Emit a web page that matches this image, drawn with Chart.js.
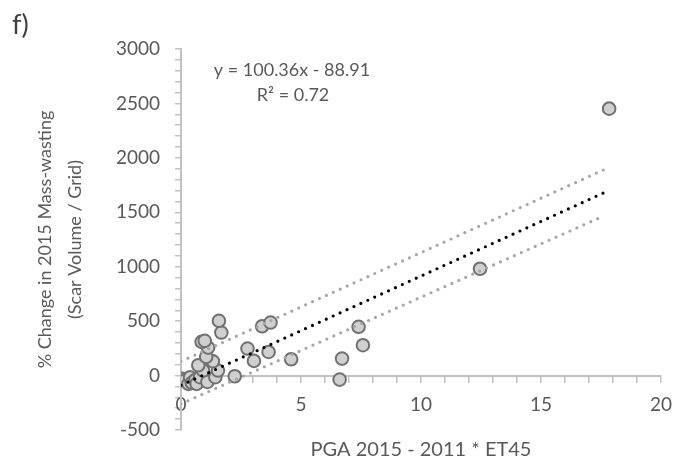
<!DOCTYPE html>
<html>
<head>
<meta charset="utf-8">
<script src="https://cdn.jsdelivr.net/npm/chart.js@4.4.1/dist/chart.umd.min.js"></script>
<style>
  html, body { margin: 0; padding: 0; background: #fff; }
  #wrap { width: 684px; height: 462px; }
</style>
</head>
<body>
<div id="wrap"><canvas id="chart" width="684" height="462"></canvas></div>
<script>
// scatter points
const pgaX = [0.04, 0.18, 0.31, 0.38, 0.45, 0.60, 0.65, 0.79, 1.10, 1.43, 1.54, 0.92, 0.72, 1.33, 1.05, 1.13, 0.86, 0.99, 1.68, 1.58, 2.24, 2.77, 3.04, 3.38, 3.73, 3.65, 4.59, 6.61, 6.71, 7.40, 7.58, 12.46, 17.84];
const changeY = [-30, -43, -76, -15, -67, -40, -76, -15, -58, -15, 46, 46, 95, 131, 172, 257, 310, 319, 395, 503, -6, 248, 135, 453, 487, 217, 150, -37, 156, 448, 279, 981, 2452];

// trend line and its band (end points as drawn)
const lineX = [0, 17.6];
const trendY = [-89, 1677];
const upperY = [131, 1889];
const lowerY = [-260, 1465];

// axis ticks
const xMajor = [0, 5, 10, 15, 20];
const yMajor = [-500, 0, 500, 1000, 1500, 2000, 2500, 3000];

const FONT = "Lato, 'Open Sans', sans-serif";
const GREY = "#595959";
const AXIS = "#c2c2c2";

const pts = (xs, ys) => xs.map((x, i) => ({ x: x, y: ys[i] }));

const dotted = (ys, color) => ({
    type: "line",
    data: pts(lineX, ys),
    borderColor: color,
    borderWidth: 3.2,
    borderDash: [0, 7.6],
    borderCapStyle: "round",
    pointRadius: 0,
    fill: false,
    order: 1,
});

// free text: panel letter + equation
const textPlugin = {
    id: "labels",
    afterDraw(chart) {
        const ctx = chart.ctx;
        ctx.save();
        ctx.fillStyle = "#404040";
        ctx.textBaseline = "middle";
        ctx.textAlign = "left";
        ctx.font = "27px " + FONT;
        ctx.fillText("f)", 12, 25);
        ctx.fillStyle = GREY;
        ctx.textAlign = "center";
        ctx.font = "18px " + FONT;
        ctx.fillText("y = 100.36x - 88.91", 292, 70);
        ctx.fillText("R² = 0.72", 293, 95);
        ctx.restore();
    },
};

// axis line with small ticks only, no gridlines
const gridOpts = {
    display: true,
    drawOnChartArea: false,
    drawTicks: true,
    tickLength: 6,
    color: AXIS,
    tickColor: AXIS,
    tickWidth: 1.5,
    lineWidth: 1.5,
};

new Chart(document.getElementById("chart").getContext("2d"), {
    type: "scatter",
    data: {
        datasets: [
            dotted(trendY, "#000000"),
            dotted(upperY, "#a6a6a6"),
            dotted(lowerY, "#a6a6a6"),
            {
                type: "scatter",
                data: pts(pgaX, changeY),
                pointRadius: 6.3,
                pointBackgroundColor: "#d0d0d0",
                pointBorderColor: "#707070",
                pointBorderWidth: 2,
                order: 2,
            },
        ],
    },
    options: {
        responsive: false,
        animation: false,
        layout: { padding: { top: 49, right: 12, bottom: 0, left: 0 } },
        plugins: { legend: { display: false }, tooltip: { enabled: false } },
        scales: {
            x: {
                type: "linear",
                position: { y: 0 },
                min: 0,
                max: 20,
                border: { color: AXIS, width: 2 },
                grid: gridOpts,
                ticks: {
                    stepSize: 1,
                    maxTicksLimit: 100,
                    autoSkip: false,
                    maxRotation: 0,
                    padding: 12,
                    color: GREY,
                    font: { family: FONT, size: 19 },
                    callback: (v) => (xMajor.includes(v) ? v : ""),
                },
            },
            // only carries the bottom title, centred on the plot area
            x2: {
                type: "linear",
                position: "bottom",
                min: 0,
                max: 20,
                border: { display: false },
                grid: { display: false, drawTicks: false },
                ticks: { display: false },
                title: {
                    display: true,
                    text: "PGA 2015 - 2011 * ET45",
                    color: GREY,
                    font: { family: FONT, size: 20, lineHeight: 1.2 },
                    padding: { top: 8, bottom: 0 },
                },
            },
            y: {
                type: "linear",
                min: -500,
                max: 3000,
                border: { color: AXIS, width: 2 },
                grid: gridOpts,
                ticks: {
                    stepSize: 100,
                    maxTicksLimit: 100,
                    autoSkip: false,
                    padding: 15,
                    color: GREY,
                    font: { family: FONT, size: 19 },
                    callback: (v) => (yMajor.includes(v) ? v : ""),
                },
                title: {
                    display: true,
                    text: ["% Change in 2015 Mass-wasting", "(Scar Volume / Grid)"],
                    color: GREY,
                    font: { family: FONT, size: 18, lineHeight: 1.67 },
                    padding: { top: 30, bottom: 0 },
                },
                afterFit: (scale) => {
                    scale.width = 181;
                },
            },
        },
    },
    plugins: [textPlugin],
});
</script>
</body>
</html>
